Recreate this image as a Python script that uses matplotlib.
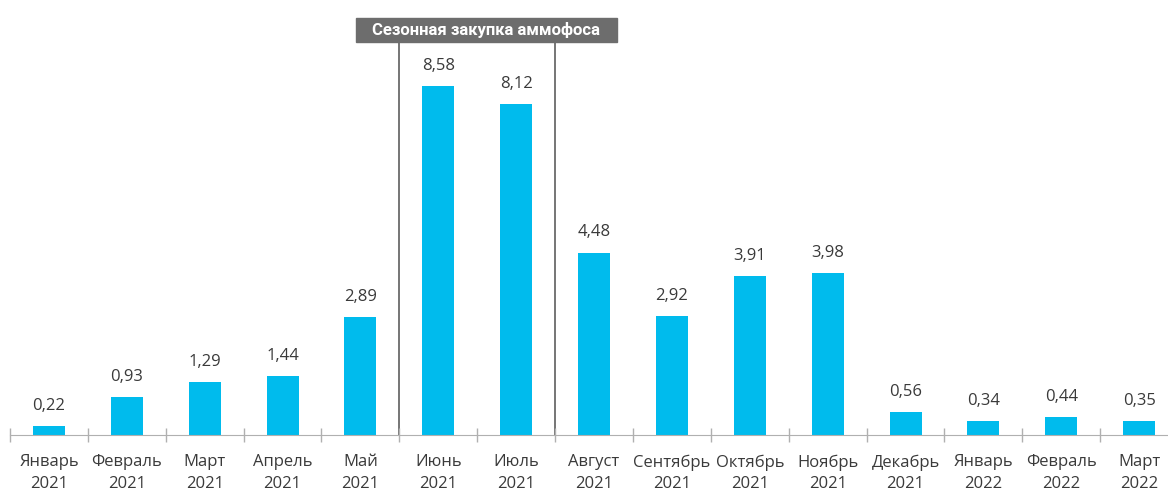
import matplotlib
matplotlib.use("Agg")
import matplotlib.pyplot as plt
from matplotlib.patches import Rectangle

plt.rcParams['font.family'] = ['Open Sans', 'DejaVu Sans']

months = ["Январь", "Февраль", "Март", "Апрель", "Май", "Июнь", "Июль", "Август",
          "Сентябрь", "Октябрь", "Ноябрь", "Декабрь", "Январь", "Февраль", "Март"]
years = ["2021"] * 12 + ["2022"] * 3
values = [0.22, 0.93, 1.29, 1.44, 2.89, 8.58, 8.12, 4.48, 2.92, 3.91, 3.98, 0.56, 0.34, 0.44, 0.35]
season_title = "Сезонная закупка аммофоса"

bar_color = "#00bbed"
text_color = "#3a3a3a"

fig = plt.figure(figsize=(11.68, 4.9), dpi=100)
ax = fig.add_axes([10 / 1168, 55 / 490, 1 - 10 / 1168, 425 / 490])

x = list(range(len(values)))
ax.bar(x, values, width=0.41, color=bar_color, zorder=2)
for xi, v in zip(x, values):
    ax.text(xi, v + 0.3, f"{v:.2f}".replace(".", ","), ha="center", va="bottom",
            fontsize=12, color=text_color)

ax.set_xlim(-0.5, 14.37)
ax.set_ylim(0, 10.44)

for s in ["top", "right", "left"]:
    ax.spines[s].set_visible(False)
ax.spines["bottom"].set_color("#b0b0b0")
ax.set_yticks([])

# category boundaries as ticks
ax.set_xticks([i - 0.5 for i in range(len(values))])
ax.set_xticklabels([])
ax.tick_params(axis="x", direction="inout", length=10, color="#b0b0b0", width=1)
ax.set_xticks(x, minor=True)
ax.set_xticklabels([f"{m}\n{y}" for m, y in zip(months, years)], minor=True,
                   fontsize=12, color=text_color, linespacing=1.45)
ax.tick_params(axis="x", which="minor", length=0, pad=14)

# seasonal block
box_x, box_y, box_w, box_h = 3.94, 9.66, 3.35, 0.59
ax.vlines([4.5, 6.5], 0, box_y, color="#6a6a6a", lw=1.3, zorder=1)
ax.add_patch(Rectangle((box_x, box_y), box_w, box_h, color="#6d6d6d", clip_on=False, zorder=3))
ax.text(box_x + box_w / 2, box_y + box_h / 2, season_title, ha="center", va="center",
        color="white", fontsize=12, fontweight="bold", family="Roboto", zorder=4)

fig.savefig("out.png", dpi=100)
